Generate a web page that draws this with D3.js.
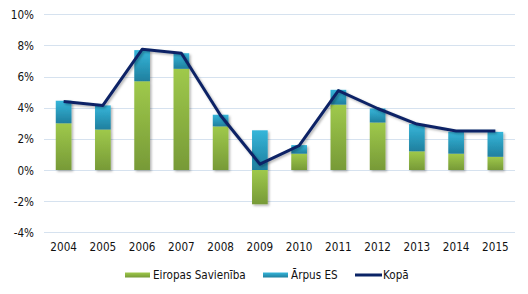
<!DOCTYPE html>
<html><head><meta charset="utf-8">
<script src="https://cdn.jsdelivr.net/npm/d3@7"></script>
<style>body{margin:0;background:#fff}svg{display:block}text{font-family:"DejaVu Sans Condensed","DejaVu Sans",sans-serif;font-size:11.6px;fill:#111}</style>
</head><body><svg id="c" width="528" height="294"></svg>
<script>
const years = ["2004","2005","2006","2007","2008","2009","2010","2011","2012","2013","2014","2015"];
const euValues = [3.0, 2.6, 5.7, 6.5, 2.8, -2.2, 1.05, 4.2, 3.05, 1.2, 1.05, 0.85];
const nonEuValues = [1.45, 1.55, 2.0, 1.0, 0.75, 2.55, 0.55, 0.95, 0.9, 1.75, 1.4, 1.6];
const totalValues = [4.4, 4.15, 7.75, 7.5, 3.5, 0.38, 1.56, 5.1, 3.95, 2.95, 2.5, 2.5];
const yTicks = [-4, -2, 0, 2, 4, 6, 8, 10];
const seriesNames = ["Eiropas Savienība", "Ārpus ES", "Kopā"];

const svg = d3.select("#c");
const defs = svg.append("defs");
function grad(id, c1, c2){
  const g = defs.append("linearGradient").attr("id", id).attr("x1",0).attr("y1",0).attr("x2",0).attr("y2",1);
  g.append("stop").attr("offset","0%").attr("stop-color",c1);
  g.append("stop").attr("offset","100%").attr("stop-color",c2);
}
grad("gG", "#9fc94b", "#779a37");
grad("gB", "#36b6da", "#1f7f9e");
const f = defs.append("filter").attr("id","sh").attr("x","-20%").attr("y","-20%").attr("width","150%").attr("height","150%");
f.append("feDropShadow").attr("dx",1.5).attr("dy",1.5).attr("stdDeviation",1.2).attr("flood-color","#000").attr("flood-opacity",0.3);

const x = d3.scaleBand().domain(years).range([44, 515]).paddingInner(0.6).paddingOuter(0.3);
const y = d3.scaleLinear().domain([-4, 10]).range([232.3, 14.3]);

svg.append("g").selectAll("line").data(yTicks).join("line")
  .attr("x1", 44).attr("x2", 515).attr("y1", d => Math.round(y(d)) + 0.5).attr("y2", d => Math.round(y(d)) + 0.5)
  .attr("stroke", "#d6e2ef").attr("stroke-width", 1);

const yAxis = d3.axisLeft(y).tickValues(yTicks).tickFormat(d => d + "%").tickSize(0).tickPadding(0);
const ya = svg.append("g").attr("transform", "translate(34,0)").call(yAxis);
ya.select(".domain").remove();
ya.selectAll("text").attr("font-size", null).attr("fill", null).attr("dy","0.35em");
ya.attr("font-family", null).attr("font-size", null);

const xAxis = d3.axisBottom(x).tickSize(0).tickPadding(0);
const xa = svg.append("g").attr("transform", "translate(0,242.5)").call(xAxis);
xa.select(".domain").remove();
xa.selectAll("text").attr("font-size", null).attr("fill", null).attr("dy","0.71em");
xa.attr("font-family", null).attr("font-size", null);

const bars = svg.append("g").attr("filter", "url(#sh)");
bars.selectAll("rect.eu").data(years).join("rect").attr("class","eu")
  .attr("x", d => x(d)).attr("width", x.bandwidth())
  .attr("y", (d,i) => y(Math.max(0, euValues[i])))
  .attr("height", (d,i) => Math.abs(y(euValues[i]) - y(0)))
  .attr("fill", "url(#gG)");
bars.selectAll("rect.ne").data(years).join("rect").attr("class","ne")
  .attr("x", d => x(d)).attr("width", x.bandwidth())
  .attr("y", (d,i) => y(Math.max(0, euValues[i]) + nonEuValues[i]))
  .attr("height", (d,i) => y(0) - y(nonEuValues[i]))
  .attr("fill", "url(#gB)");

const line = d3.line().x((d,i) => x(years[i]) + x.bandwidth()/2).y(d => y(d));
svg.append("path").datum(totalValues).attr("d", line)
  .attr("fill","none").attr("stroke","#0b2466").attr("stroke-width",3).attr("stroke-linejoin","round")
  .attr("filter","url(#sh)");

const lg = svg.append("g");
const legendItems = [
  {name: seriesNames[0], x: 125, type: "rect", fill: "url(#gG)"},
  {name: seriesNames[1], x: 263, type: "rect", fill: "url(#gB)"},
  {name: seriesNames[2], x: 355, type: "line", fill: "#0b2466"}
];
legendItems.forEach(it => {
  if (it.type === "rect") {
    lg.append("rect").attr("x", it.x).attr("y", 272.5).attr("width", 25).attr("height", 5).attr("fill", it.fill);
  } else {
    lg.append("line").attr("x1", it.x).attr("x2", it.x + 27).attr("y1", 275).attr("y2", 275).attr("stroke", it.fill).attr("stroke-width", 3);
  }
  lg.append("text").attr("x", it.x + 28).attr("y", 275).attr("dy", "0.35em").text(it.name);
});
</script></body></html>
